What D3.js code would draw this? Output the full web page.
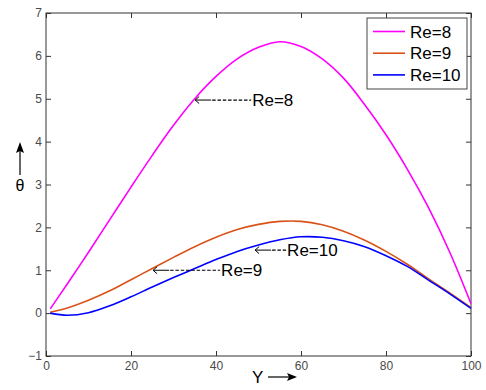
<!DOCTYPE html>
<html>
<head>
<meta charset="utf-8">
<script src="https://cdn.jsdelivr.net/npm/d3@7"></script>
<style>
  body { margin: 0; background: #fff; }
  text { font-family: "Liberation Sans", Arial, sans-serif; }
</style>
</head>
<body>
<script>
// values
var yPos = [1, 5, 10, 15, 20, 25, 30, 35, 40, 45, 50, 55, 60, 65, 70, 75, 80, 85, 90, 95, 100];
var re8  = [0.1, 0.68, 1.42, 2.18, 2.94, 3.68, 4.38, 5.0, 5.52, 5.93, 6.2, 6.33, 6.22, 5.93, 5.48, 4.86, 4.16, 3.36, 2.46, 1.42, 0.22];
var re9  = [0.02, 0.12, 0.3, 0.52, 0.78, 1.04, 1.3, 1.55, 1.77, 1.95, 2.07, 2.14, 2.14, 2.06, 1.91, 1.7, 1.44, 1.14, 0.8, 0.47, 0.13];
var re10 = [0.0, -0.05, 0.01, 0.17, 0.38, 0.61, 0.83, 1.04, 1.25, 1.44, 1.59, 1.71, 1.78, 1.77, 1.69, 1.55, 1.34, 1.09, 0.77, 0.45, 0.11];
var seriesNames = ["Re=8", "Re=9", "Re=10"];
var seriesColors = ["#ff00ff", "#d95319", "#0000ff"];
var xTicks = [0, 20, 40, 60, 80, 100];
var yTicks = [-1, 0, 1, 2, 3, 4, 5, 6, 7];
// annotation arrows: where the arrow tip points and how long the dashes run (px)
var noteLabels = ["Re=8", "Re=9", "Re=10"];
var noteX = [35.1, 25.2, 49.2];
var noteY = [4.97, 1.0, 1.47];
var noteLen = [56, 67, 31];

const margin = {top: 13, right: 15, bottom: 34, left: 46},
    width = 486 - margin.left - margin.right,
    height = 390 - margin.top - margin.bottom;

var x = d3.scaleLinear().domain([0, 100]).range([0, width]);
var y = d3.scaleLinear().domain([-1, 7]).range([height, 0]);

var svg = d3.select("body").append("svg")
    .attr("width", 486)
    .attr("height", 390);

var g = svg.append("g")
    .attr("transform", "translate(" + margin.left + "," + margin.top + ")");

// axes, ticks pointing inward
var axisColor = "#333";
var labelColor = "#4a4a4a";

function styleAxis(sel, showText) {
    sel.select(".domain").remove();
    sel.selectAll(".tick line").attr("stroke", axisColor);
    sel.selectAll(".tick text")
        .attr("fill", labelColor)
        .style("font-size", "12px")
        .style("display", showText ? null : "none");
}

g.append("g")
    .attr("transform", "translate(0," + height + ")")
    .call(d3.axisBottom(x).tickValues(xTicks).tickSizeInner(-5).tickSizeOuter(0).tickPadding(5))
    .call(styleAxis, true);

g.append("g")
    .call(d3.axisTop(x).tickValues(xTicks).tickSizeInner(-5).tickSizeOuter(0))
    .call(styleAxis, false);

g.append("g")
    .call(d3.axisLeft(y).tickValues(yTicks).tickSizeInner(-5).tickSizeOuter(0).tickPadding(4))
    .call(styleAxis, true);

g.append("g")
    .attr("transform", "translate(" + width + ",0)")
    .call(d3.axisRight(y).tickValues(yTicks).tickSizeInner(-5).tickSizeOuter(0))
    .call(styleAxis, false);

g.append("rect")
    .attr("width", width)
    .attr("height", height)
    .attr("fill", "none")
    .attr("stroke", axisColor)
    .attr("stroke-width", 1);

// curves
var allSeries = [re8, re9, re10];
var line = d3.line()
    .x(function(d, i) { return x(yPos[i]); })
    .y(function(d) { return y(d); })
    .curve(d3.curveCatmullRom);

g.selectAll(".curve")
    .data(allSeries)
    .enter().append("path")
    .attr("class", "curve")
    .attr("fill", "none")
    .attr("stroke", function(d, i) { return seriesColors[i]; })
    .attr("stroke-width", 1.6)
    .attr("d", line);

// annotations: arrow + dashes + label
var notes = g.selectAll(".note")
    .data(noteLabels)
    .enter().append("g")
    .attr("class", "note")
    .attr("transform", function(d, i) { return "translate(" + x(noteX[i]) + "," + y(noteY[i]) + ")"; });

notes.append("path")
    .attr("d", "M0,0 L16,0 M4,-3.5 L0,0 L4,3.5")
    .attr("fill", "none")
    .attr("stroke", "#000")
    .attr("stroke-width", 1);

notes.append("line")
    .attr("x1", 17)
    .attr("x2", function(d, i) { return noteLen[i]; })
    .attr("stroke", "#000")
    .attr("stroke-width", 1.2)
    .attr("stroke-dasharray", "3.5,1.8");

notes.append("text")
    .attr("x", function(d, i) { return noteLen[i] + 1; })
    .attr("y", 6)
    .style("font-size", "17px")
    .text(function(d) { return d; });

// legend
var legend = svg.append("g")
    .attr("transform", "translate(367,18)");

legend.append("rect")
    .attr("width", 100)
    .attr("height", 71)
    .attr("fill", "#fff")
    .attr("stroke", "#444")
    .attr("stroke-width", 1);

var rows = legend.selectAll(".row")
    .data(seriesNames)
    .enter().append("g")
    .attr("class", "row")
    .attr("transform", function(d, i) { return "translate(0," + (13.5 + i * 21.7) + ")"; });

rows.append("line")
    .attr("x1", 6)
    .attr("x2", 38)
    .attr("stroke", function(d, i) { return seriesColors[i]; })
    .attr("stroke-width", 1.6);

rows.append("text")
    .attr("x", 43)
    .attr("y", 6)
    .style("font-size", "17px")
    .text(function(d) { return d; });

// axis titles
var xt = svg.append("g").attr("transform", "translate(252,383)");
xt.append("text")
    .style("font-size", "17px")
    .text("Y");
xt.append("line")
    .attr("x1", 16).attr("x2", 38).attr("y1", -6).attr("y2", -6)
    .attr("stroke", "#000").attr("stroke-width", 1.2);
xt.append("path")
    .attr("d", "M45,-6 L35,-10 L37,-6 L35,-2 Z")
    .attr("fill", "#000");

var yt = svg.append("g").attr("transform", "translate(20,191)");
yt.append("text")
    .attr("text-anchor", "middle")
    .style("font-size", "16px")
    .text("\u03b8");
yt.append("line")
    .attr("x1", 0).attr("x2", 0).attr("y1", -16).attr("y2", -42)
    .attr("stroke", "#000").attr("stroke-width", 1.2);
yt.append("path")
    .attr("d", "M0,-49 L-4,-38 L0,-40 L4,-38 Z")
    .attr("fill", "#000");
</script>
</body>
</html>
